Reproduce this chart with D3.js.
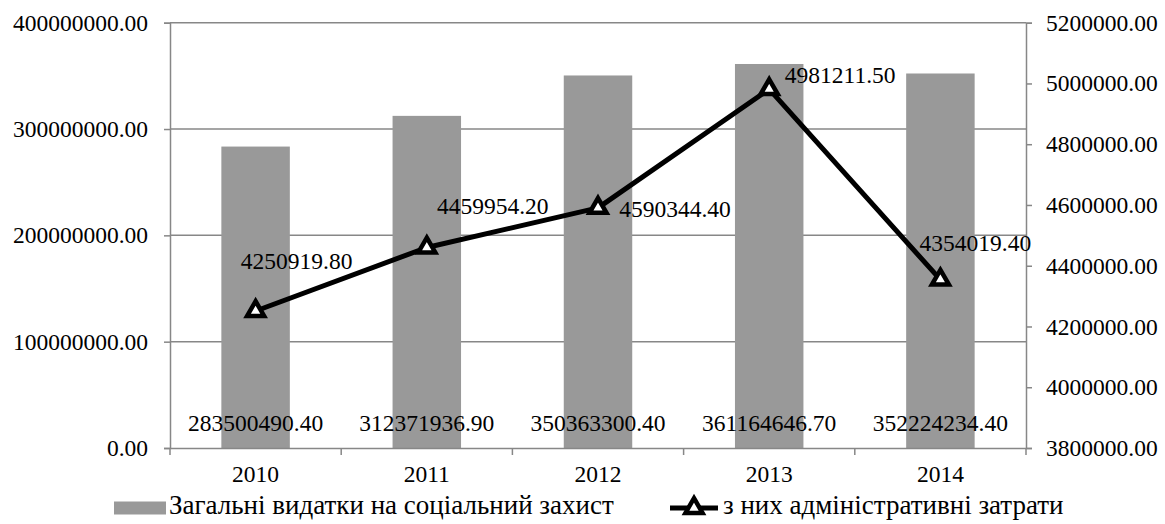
<!DOCTYPE html>
<html>
<head>
<meta charset="utf-8">
<script src="https://cdn.jsdelivr.net/npm/d3@7"></script>
<style>
  html, body { margin: 0; padding: 0; background: #fff; }
  svg text { font-family: "Liberation Serif", "Times New Roman", serif; fill: #000; }
</style>
</head>
<body>
<svg id="chart" width="1165" height="524"></svg>
<script>
const years = ["2010", "2011", "2012", "2013", "2014"];
const totalSpending = [283500490.40, 312371936.90, 350363300.40, 361164646.70, 352224234.40];
const adminCosts = [4250919.80, 4459954.20, 4590344.40, 4981211.50, 4354019.40];
const leftTicks = [0, 100000000, 200000000, 300000000, 400000000];
const rightTicks = [3800000, 4000000, 4200000, 4400000, 4600000, 4800000, 5000000, 5200000];
const seriesNames = ["Загальні видатки на соціальний захист", "з них адміністративні затрати"];
// label offsets (dx, dy) for the line data labels, relative to the point
const lineLabelOffsets = [[41, -47], [66, -39], [77, 4], [71, -12], [35, -34]];

const svg = d3.select("#chart");
const FS = 23.5;
const LFS = 27;
const W = 1165, H = 524;
const margin = { left: 170, right: W - 1026, top: 22.7, bottom: H - 448 };
const x0 = margin.left, x1 = W - margin.right, yTop = margin.top, yBot = H - margin.bottom;

const x = d3.scaleBand().domain(years).range([x0, x1]).paddingInner(0).paddingOuter(0);
const yL = d3.scaleLinear().domain([0, 400000000]).range([yBot, yTop]);
const yR = d3.scaleLinear().domain([3800000, 5200000]).range([yBot, yTop]);
const fmt = d3.format(".2f");
const gridColor = "#878787";
const barColor = "#999999";

// gridlines
svg.append("g").selectAll("line").data(leftTicks.slice(1)).join("line")
  .attr("x1", x0).attr("x2", x1)
  .attr("y1", d => yL(d)).attr("y2", d => yL(d))
  .attr("stroke", gridColor).attr("stroke-width", 1.5);

// bars
const barW = x.bandwidth() * 0.4;
svg.append("g").selectAll("rect").data(totalSpending).join("rect")
  .attr("x", (d, i) => x(years[i]) + (x.bandwidth() - barW) / 2)
  .attr("width", barW)
  .attr("y", d => yL(d))
  .attr("height", d => yBot - yL(d))
  .attr("fill", barColor);

// left axis
const gL = svg.append("g").attr("transform", `translate(${x0},0)`)
  .call(d3.axisLeft(yL).tickValues(leftTicks).tickFormat(fmt).tickSize(6).tickPadding(16));
gL.select(".domain").attr("stroke", gridColor).attr("stroke-width", 1.5);
gL.selectAll(".tick line").attr("stroke", gridColor).attr("stroke-width", 1.5);
gL.selectAll("text").style("font-size", FS + "px").style("font-family", "Liberation Serif");

// right axis
const gR = svg.append("g").attr("transform", `translate(${x1},0)`)
  .call(d3.axisRight(yR).tickValues(rightTicks).tickFormat(fmt).tickSize(6).tickPadding(14));
gR.select(".domain").attr("stroke", gridColor).attr("stroke-width", 1.5);
gR.selectAll(".tick line").attr("stroke", gridColor).attr("stroke-width", 1.5);
gR.selectAll("text").style("font-size", FS + "px").style("font-family", "Liberation Serif");

// bottom axis
const gB = svg.append("g").attr("transform", `translate(0,${yBot})`)
  .call(d3.axisBottom(x).tickSize(0).tickPadding(17));
gB.select(".domain").attr("stroke", gridColor).attr("stroke-width", 1.5);
gB.selectAll("text").style("font-size", FS + "px").style("font-family", "Liberation Serif");
// category boundary ticks
svg.append("g").selectAll("line").data(years.concat(["end"])).join("line")
  .attr("x1", (d, i) => x0 + i * x.bandwidth()).attr("x2", (d, i) => x0 + i * x.bandwidth())
  .attr("y1", yBot).attr("y2", yBot + 7)
  .attr("stroke", gridColor).attr("stroke-width", 1.5);

// bar labels
svg.append("g").selectAll("text").data(totalSpending).join("text")
  .attr("x", (d, i) => x(years[i]) + x.bandwidth() / 2)
  .attr("y", yBot - 22)
  .attr("text-anchor", "middle").attr("dominant-baseline", "middle")
  .style("font-size", FS + "px")
  .text(d => fmt(d));

// line
const cx = (d, i) => x(years[i]) + x.bandwidth() / 2;
const line = d3.line().x((d, i) => cx(d, i)).y(d => yR(d));
svg.append("path").datum(adminCosts)
  .attr("d", line).attr("fill", "none").attr("stroke", "#000").attr("stroke-width", 5)
  .attr("stroke-linejoin", "round");

const tri = d3.symbol().type(d3.symbolTriangle).size(125);
svg.append("g").selectAll("path").data(adminCosts).join("path")
  .attr("d", tri)
  .attr("transform", (d, i) => `translate(${cx(d, i)},${yR(d)})`)
  .attr("fill", "#fff").attr("stroke", "#000").attr("stroke-width", 4.5)
  .attr("stroke-linejoin", "miter");

// line labels
svg.append("g").selectAll("text").data(adminCosts).join("text")
  .attr("x", (d, i) => cx(d, i) + lineLabelOffsets[i][0])
  .attr("y", (d, i) => yR(d) + lineLabelOffsets[i][1])
  .attr("text-anchor", "middle").attr("dominant-baseline", "middle")
  .style("font-size", FS + "px")
  .text(d => fmt(d));

// legend
const lg = svg.append("g");
const ly = 508;
lg.append("rect").attr("x", 114).attr("y", ly - 6.5).attr("width", 52).attr("height", 13).attr("fill", barColor);
lg.append("text").attr("x", 169).attr("y", ly).attr("dominant-baseline", "middle")
  .style("font-size", LFS + "px").text(seriesNames[0]);
const lx = 670;
lg.append("line").attr("x1", lx).attr("x2", lx + 48).attr("y1", ly).attr("y2", ly)
  .attr("stroke", "#000").attr("stroke-width", 5);
lg.append("path").attr("d", tri).attr("transform", `translate(${lx + 24},${ly})`)
  .attr("fill", "#fff").attr("stroke", "#000").attr("stroke-width", 4.5);
lg.append("text").attr("x", lx + 53).attr("y", ly).attr("dominant-baseline", "middle")
  .style("font-size", LFS + "px").text(seriesNames[1]);
</script>
</body>
</html>
